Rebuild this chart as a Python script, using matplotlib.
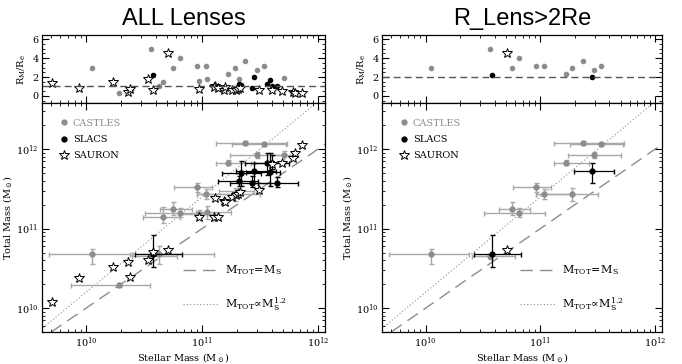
import numpy as np
import matplotlib
matplotlib.use("Agg")
import matplotlib.pyplot as plt
from matplotlib.lines import Line2D
from matplotlib.ticker import LogLocator, MultipleLocator, NullFormatter

plt.rcParams['font.family'] = 'DejaVu Serif'
plt.rcParams['mathtext.fontset'] = 'dejavuserif'

# CASTLES lenses (log10 masses, error bar ends, R_M/R_e)
castles_ms = [10.05, 10.28, 10.56, 10.63, 10.66, 10.75, 10.81, 10.96, 10.97, 11.03,
              11.04, 11.22, 11.28, 11.32, 11.37, 11.47, 11.53, 11.71]
castles_mt = [10.675, 10.29, 10.65, 10.68, 11.15, 11.25, 11.20, 11.52, 11.18, 11.43,
              11.21, 11.83, 11.43, 11.47, 12.075, 11.92, 12.06, 11.92]
castles_ms_lo = [9.68, 9.87, 10.40, 10.40, 10.49, 10.64, 10.51, 10.76, 10.80, 10.96,
                 10.95, 11.12, 10.96, 11.15, 11.12, 11.24, 11.26, 11.60]
castles_ms_hi = [10.38, 10.55, 10.78, 11.10, 10.81, 10.91, 11.04, 11.09, 11.15, 11.27,
                 11.25, 11.42, 11.50, 11.45, 11.73, 11.70, 11.72, 11.78]
castles_mt_lo = [10.56, 10.27, 10.62, 10.56, 11.07, 11.17, 11.15, 11.46, 11.13, 11.37,
                 11.12, 11.80, 11.35, 11.44, 12.05, 11.89, 12.04, 11.83]
castles_mt_hi = [10.75, 10.31, 10.68, 10.78, 11.27, 11.33, 11.26, 11.58, 11.23, 11.50,
                 11.28, 11.86, 11.51, 11.50, 12.10, 11.96, 12.08, 11.98]
castles_ratio = [3.0, 0.3, 5.0, 1.0, 1.46, 3.0, 4.0, 3.2, 1.57, 3.2,
                 1.8, 2.3, 3.0, 1.8, 3.7, 2.7, 3.2, 1.95]

# SLACS lenses
slacs_ms = [10.58, 11.32, 11.34, 11.43, 11.45, 11.56, 11.59, 11.60, 11.65]
slacs_mt = [10.68, 11.60, 11.70, 11.575, 11.72, 11.82, 11.71, 11.83, 11.575]
slacs_ms_lo = [10.42, 11.14, 11.17, 11.24, 11.29, 11.37, 11.38, 11.45, 11.48]
slacs_ms_hi = [10.83, 11.48, 11.51, 11.59, 11.64, 11.71, 11.67, 11.75, 11.83]
slacs_mt_lo = [10.52, 11.53, 11.54, 11.52, 11.58, 11.68, 11.54, 11.75, 11.52]
slacs_mt_hi = [10.92, 11.66, 11.85, 11.66, 11.83, 11.95, 11.95, 11.92, 11.65]
slacs_ratio = [2.25, 1.3, 1.2, 0.8, 2.05, 1.3, 1.64, 1.0, 1.03]

# SAURON galaxies
sauron_ms = [9.71, 9.94, 10.23, 10.36, 10.38, 10.53, 10.58, 10.71, 10.97, 11.11, 11.10, 11.14,
             11.19, 11.20, 11.26, 11.29, 11.31, 11.33, 11.49, 11.60, 11.69, 11.78, 11.80, 11.86]
sauron_mt = [10.083, 10.375, 10.52, 10.575, 10.39, 10.61, 10.70, 10.73, 11.14, 11.38, 11.15, 11.15,
             11.35, 11.33, 11.40, 11.42, 11.44, 11.46, 11.49, 11.81, 11.83, 11.89, 11.95, 12.05]
sauron_ratio = [1.4, 0.8, 1.5, 0.4, 0.75, 1.8, 0.6, 4.5, 0.75, 1.1, 0.9, 0.85,
                0.6, 0.9, 0.6, 0.6, 0.7, 0.8, 0.6, 0.65, 0.55, 0.45, 0.35, 0.3]

titles = ['ALL Lenses', 'R_Lens>2Re']
ratio_cut = [None, 2.0]
ratio_line = [1.0, 2.0]

GRAY = '#8c8c8c'
EGRAY = '#a8a8a8'

fig = plt.figure(figsize=(6.82, 3.64), dpi=100)
lefts = [42 / 682, 382 / 682]
widths = [283 / 682, 280 / 682]
xlim = (10 ** 9.62, 10 ** 12.06)
ylim = (10 ** 9.7, 10 ** 12.58)


def sel(vals, ratio, cut):
    v = np.asarray(vals)
    if cut is None:
        return v
    return v[np.asarray(ratio) > cut]


def style_axes(ax):
    ax.tick_params(which='both', direction='in', top=True, right=True, labelsize=7, pad=2.5)
    ax.tick_params(which='major', length=5, width=0.8)
    ax.tick_params(which='minor', length=2.5, width=0.6)
    for s in ax.spines.values():
        s.set_linewidth(0.9)


for k in range(2):
    cut = ratio_cut[k]
    axt = fig.add_axes([lefts[k], 1 - 103 / 364, widths[k], 68 / 364])
    axb = fig.add_axes([lefts[k], 1 - 332 / 364, widths[k], 229 / 364])

    # ---- bottom panel: total vs stellar mass
    c = {n: 10 ** sel(v, castles_ratio, cut) for n, v in
         [('x', castles_ms), ('y', castles_mt), ('xl', castles_ms_lo), ('xh', castles_ms_hi),
          ('yl', castles_mt_lo), ('yh', castles_mt_hi)]}
    axb.errorbar(c['x'], c['y'], xerr=[c['x'] - c['xl'], c['xh'] - c['x']],
                 yerr=[c['y'] - c['yl'], c['yh'] - c['y']], fmt='o', ms=3.5,
                 color=GRAY, ecolor=EGRAY, elinewidth=1.0, capsize=1.8, zorder=2)
    s = {n: 10 ** sel(v, slacs_ratio, cut) for n, v in
         [('x', slacs_ms), ('y', slacs_mt), ('xl', slacs_ms_lo), ('xh', slacs_ms_hi),
          ('yl', slacs_mt_lo), ('yh', slacs_mt_hi)]}
    axb.errorbar(s['x'], s['y'], xerr=[s['x'] - s['xl'], s['xh'] - s['x']],
                 yerr=[s['y'] - s['yl'], s['yh'] - s['y']], fmt='o', ms=3.5,
                 color='black', ecolor='black', elinewidth=0.9, capsize=1.8, zorder=3)
    axb.plot(10 ** sel(sauron_ms, sauron_ratio, cut), 10 ** sel(sauron_mt, sauron_ratio, cut),
             '*', ms=7.5, mfc='white', mec='black', mew=0.7, ls='none', zorder=4)

    xx = np.logspace(9, 13, 50)
    axb.plot(xx, xx, ls=(0, (9, 5)), color=GRAY, lw=1.0, zorder=1)
    axb.plot(xx, 10 ** 10.2 * (xx / 1e10) ** 1.2, ls=(0, (1, 2)), color=GRAY, lw=0.8, zorder=1)

    axb.set_xscale('log')
    axb.set_yscale('log')
    axb.set_xlim(*xlim)
    axb.set_ylim(*ylim)
    axb.xaxis.set_major_locator(LogLocator(base=10, numticks=10))
    axb.xaxis.set_minor_locator(LogLocator(base=10, subs=np.arange(2, 10), numticks=10))
    axb.yaxis.set_minor_locator(LogLocator(base=10, subs=np.arange(2, 10), numticks=10))
    axb.xaxis.set_minor_formatter(NullFormatter())
    axb.yaxis.set_minor_formatter(NullFormatter())
    style_axes(axb)
    axb.set_xlabel(r'Stellar Mass (M$_\odot$)', fontsize=7, labelpad=1)
    axb.set_ylabel(r'Total Mass (M$_\odot$)', fontsize=7, labelpad=1)

    h_pts = [Line2D([], [], marker='o', ms=3.5, color=GRAY, ls='none'),
             Line2D([], [], marker='o', ms=3.5, color='black', ls='none'),
             Line2D([], [], marker='*', ms=7.5, mfc='white', mec='black', mew=0.7, ls='none')]
    leg1 = axb.legend(h_pts, ['CASTLES', 'SLACS', 'SAURON'], loc='upper left',
                      bbox_to_anchor=(0.03, 0.97), frameon=False, fontsize=7,
                      handlelength=1.0, handletextpad=0.4, labelspacing=0.75,
                      labelcolor=[GRAY, 'black', 'black'])
    axb.add_artist(leg1)
    h_lines = [Line2D([], [], ls=(0, (9, 5)), color=GRAY, lw=1.0),
               Line2D([], [], ls=(0, (1, 2)), color=GRAY, lw=0.8)]
    axb.legend(h_lines, [r'$\mathrm{M_{TOT}\!=\!M_S}$', r'$\mathrm{M_{TOT}\!\propto\!M_S^{1.2}}$'],
               loc='lower right', bbox_to_anchor=(0.9, 0.04), frameon=False, fontsize=8,
               handlelength=3.2, handletextpad=0.6, labelspacing=1.6)

    # ---- top panel: R_M / R_e
    axt.plot(10 ** sel(castles_ms, castles_ratio, cut), sel(castles_ratio, castles_ratio, cut),
             'o', ms=3, color=GRAY, ls='none')
    axt.plot(10 ** sel(slacs_ms, slacs_ratio, cut), sel(slacs_ratio, slacs_ratio, cut),
             'o', ms=3, color='black', ls='none')
    axt.plot(10 ** sel(sauron_ms, sauron_ratio, cut), sel(sauron_ratio, sauron_ratio, cut),
             '*', ms=7.5, mfc='white', mec='black', mew=0.7, ls='none')
    axt.axhline(ratio_line[k], ls=(0, (5, 3)), color='#555555', lw=1.0)
    axt.set_xscale('log')
    axt.set_xlim(*xlim)
    axt.set_ylim(-0.75, 6.45)
    axt.xaxis.set_major_locator(LogLocator(base=10, numticks=10))
    axt.xaxis.set_minor_locator(LogLocator(base=10, subs=np.arange(2, 10), numticks=10))
    axt.xaxis.set_major_formatter(NullFormatter())
    axt.xaxis.set_minor_formatter(NullFormatter())
    axt.yaxis.set_major_locator(MultipleLocator(2))
    axt.yaxis.set_minor_locator(MultipleLocator(0.5))
    style_axes(axt)
    axt.set_ylabel(r'R$_\mathrm{M}$/R$_\mathrm{e}$', fontsize=7, labelpad=3)
    axt.set_title(titles[k], fontsize=17, family='Liberation Sans', pad=7)

fig.savefig('out.png', dpi=100)
